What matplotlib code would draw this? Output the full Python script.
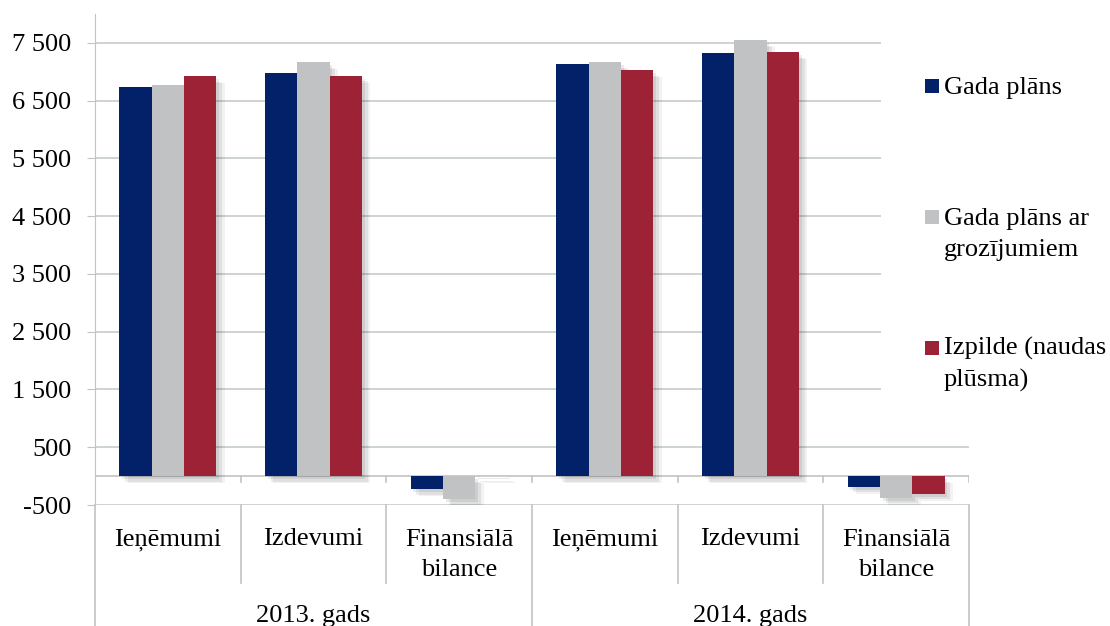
import matplotlib
matplotlib.use('Agg')
import matplotlib.pyplot as plt
import matplotlib.patheffects as pe
from matplotlib.patches import Rectangle
from matplotlib.ticker import FuncFormatter

categories = ['Ieņēmumi', 'Izdevumi', 'Finansiālā\nbilance',
              'Ieņēmumi', 'Izdevumi', 'Finansiālā\nbilance']
groups = ['2013. gads', '2014. gads']
series_names = ['Gada plāns', 'Gada plāns ar\ngrozījumiem', 'Izpilde (naudas\nplūsma)']
gada_plans = [6741, 6977, -230, 7138, 7323, -185]
gada_plans_groz = [6770, 7167, -403, 7168, 7547, -375]
izpilde = [6920, 6931, 10, 7029, 7340, -306]
colors = ['#022168', '#c1c2c4', '#9d2236']
yticks = [-500, 500, 1500, 2500, 3500, 4500, 5500, 6500, 7500]

plt.rcParams['font.family'] = ['Liberation Serif', 'DejaVu Serif']
FS = 19
LS = 1.5
LINE_PX = 31
W, H = 1110, 626
fig = plt.figure(figsize=(W / 100, H / 100), dpi=100)
ax = fig.add_axes([95 / W, 1 - 505 / H, (969 - 95) / W, (505 - 14) / H])

axis_col = '#c0c4c2'
grid_col = '#c3ccc8'

x = list(range(len(categories)))
bw = 0.222
shadow = [pe.SimplePatchShadow(offset=(6, -5), shadow_rgbFace='k', alpha=0.05),
          pe.SimplePatchShadow(offset=(4, -4), shadow_rgbFace='k', alpha=0.07),
          pe.SimplePatchShadow(offset=(2, -2), shadow_rgbFace='k', alpha=0.08),
          pe.Normal()]
for i, vals in enumerate([gada_plans, gada_plans_groz, izpilde]):
    pos = [xi + (i - 1) * bw for xi in x]
    bars = ax.bar(pos, vals, bw, color=colors[i], zorder=3 + i * 0.01)
    for b in bars:
        b.set_path_effects(shadow)

ax.set_xlim(-0.5, len(categories) - 0.5)
ax.set_ylim(-500, 8000)
ax.set_yticks(yticks)
ax.yaxis.set_major_formatter(FuncFormatter(lambda v, p: f'{int(v):,}'.replace(',', ' ')))
ax.tick_params(axis='y', length=6, color=axis_col, labelsize=FS, pad=11)
ax.set_xticks([])
for s in ['top', 'right', 'bottom']:
    ax.spines[s].set_visible(False)
ax.spines['left'].set_color(axis_col)
ax.yaxis.grid(True, color=grid_col, linewidth=1.2, zorder=0)
ax.set_axisbelow(True)
ax.axhline(0, color=axis_col, linewidth=1.2, zorder=2)

tr = ax.get_xaxis_transform()
ax_h = 505 - 14
def ay(py):
    return (505 - py) / ax_h

# ticks at zero line, separators below
for k in range(len(categories) + 1):
    xb = k - 0.5
    ax.plot([xb, xb], [0, -110], color=axis_col, linewidth=1.2, zorder=2)
    bottom = ay(626) if k % 3 == 0 else ay(583)
    ax.plot([xb, xb], [0, bottom], transform=tr, color=axis_col,
            linewidth=1.2, clip_on=False)

# va='baseline' anchors the last line, so shift multi-line labels down
for xi, c in zip(x, categories):
    base = 545 + LINE_PX * c.count('\n')
    ax.text(xi, ay(base), c, transform=tr, ha='center', va='baseline',
            fontsize=FS, linespacing=LS, clip_on=False)
for g, gname in enumerate(groups):
    ax.text(g * 3 + 1, ay(622), gname, transform=tr, ha='center',
            va='baseline', fontsize=FS, clip_on=False)

# legend area (covers gridlines like the original)
fig.patches.append(Rectangle((881 / W, 1 - 438 / H), (W - 881) / W, 438 / H,
                             transform=fig.transFigure, facecolor='white',
                             edgecolor='none', zorder=5))
leg_base = [94, 225, 356]
for i, name in enumerate(series_names):
    fig.patches.append(Rectangle((925 / W, 1 - (leg_base[i] - 1) / H), 14 / W, 14 / H,
                                 transform=fig.transFigure, facecolor=colors[i],
                                 edgecolor='none', zorder=6))
    base = leg_base[i] + LINE_PX * name.count('\n')
    fig.text(944 / W, 1 - base / H, name, ha='left', va='baseline',
             fontsize=FS, linespacing=LS, zorder=7)

fig.savefig('out.png', dpi=100)
